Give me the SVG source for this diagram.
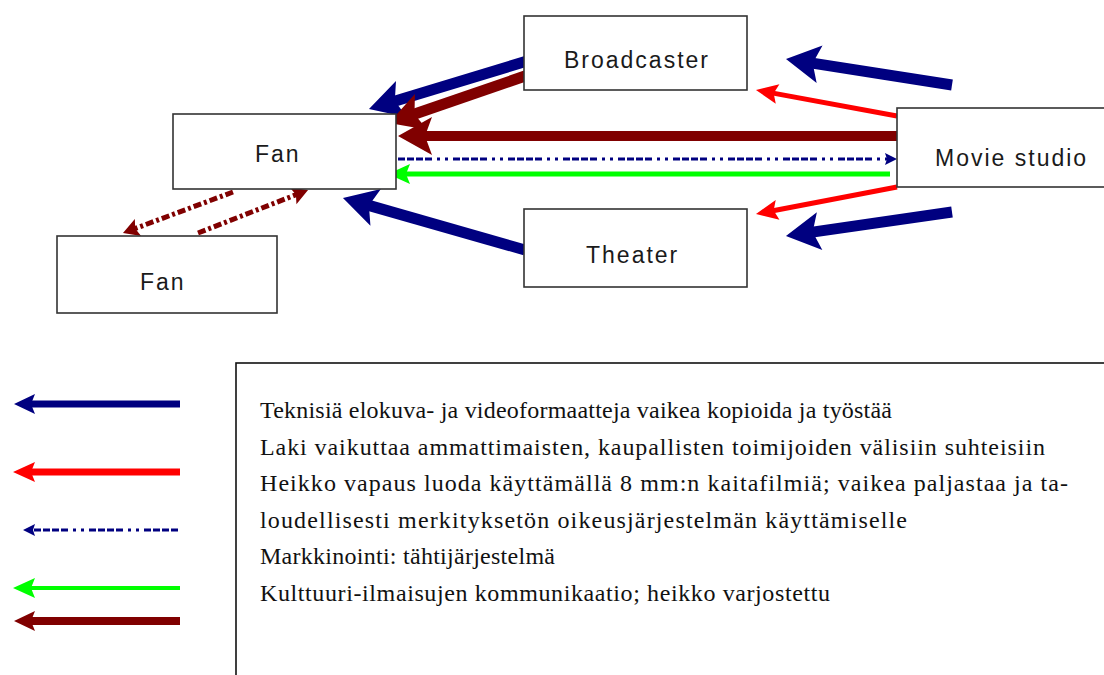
<svg xmlns="http://www.w3.org/2000/svg" width="1104" height="675" viewBox="0 0 1104 675">
<style>
.box{fill:#fff;stroke:#333;stroke-width:1.6}
.lbl{font-family:"Liberation Sans",Arial,sans-serif;font-size:23px;letter-spacing:2px;fill:#1a1a1a}
.leg{font-family:"Liberation Serif","Times New Roman",serif;font-size:24px;fill:#111}
.navy{stroke:#000080;fill:none}
.dred{stroke:#800000;fill:none}
.red{stroke:#ff0000;fill:none}
.green{stroke:#00ff00;fill:none}
</style>
<defs>
<marker id="hLnavy" markerUnits="userSpaceOnUse" refX="9" refY="0" markerWidth="44" markerHeight="44" viewBox="0 -22 44 44" orient="auto" overflow="visible"><path d="M0,-19 L34,0 L0,19 L7,0 Z" fill="#000080"/></marker>
<marker id="hLdred" markerUnits="userSpaceOnUse" refX="9" refY="0" markerWidth="44" markerHeight="44" viewBox="0 -22 44 44" orient="auto" overflow="visible"><path d="M0,-19 L34,0 L0,19 L7,0 Z" fill="#800000"/></marker>
<marker id="hMred" markerUnits="userSpaceOnUse" refX="6" refY="0" markerWidth="30" markerHeight="30" viewBox="0 -15 30 30" orient="auto" overflow="visible"><path d="M0,-10 L22,0 L0,10 L4,0 Z" fill="#ff0000"/></marker>
<marker id="hMgreen" markerUnits="userSpaceOnUse" refX="6" refY="0" markerWidth="30" markerHeight="30" viewBox="0 -15 30 30" orient="auto" overflow="visible"><path d="M0,-10 L22,0 L0,10 L4,0 Z" fill="#00ff00"/></marker>
<marker id="hMnavy" markerUnits="userSpaceOnUse" refX="6" refY="0" markerWidth="30" markerHeight="30" viewBox="0 -15 30 30" orient="auto" overflow="visible"><path d="M0,-10 L21,0 L0,10 L4,0 Z" fill="#000080"/></marker>
<marker id="hMdred" markerUnits="userSpaceOnUse" refX="6" refY="0" markerWidth="30" markerHeight="30" viewBox="0 -15 30 30" orient="auto" overflow="visible"><path d="M0,-10 L21,0 L0,10 L4,0 Z" fill="#800000"/></marker>
<marker id="hSnavy" markerUnits="userSpaceOnUse" refX="4" refY="0" markerWidth="16" markerHeight="16" viewBox="0 -8 16 16" orient="auto" overflow="visible"><path d="M0,-6 L12,0 L0,6 L2,0 Z" fill="#000080"/></marker>
<marker id="hSdred" markerUnits="userSpaceOnUse" refX="5" refY="0" markerWidth="22" markerHeight="22" viewBox="0 -11 22 22" orient="auto" overflow="visible"><path d="M0,-9 L16,0 L0,9 L3,0 Z" fill="#800000"/></marker>
</defs>

<g id="connectors">
<line class="navy" stroke-width="11" x1="527" y1="61" x2="392.9" y2="101.7" marker-end="url(#hLnavy)"/>
<line class="dred" stroke-width="11" x1="528" y1="75" x2="412.6" y2="114.8" marker-end="url(#hLdred)"/>
<line class="dred" stroke-width="10" x1="897" y1="136" x2="423" y2="136" marker-end="url(#hLdred)"/>
<line class="navy" stroke-width="3" stroke-dasharray="7,2,7,2,7,2,7,5,3,5,3,5" x1="398" y1="159" x2="889" y2="159" marker-end="url(#hSnavy)"/>
<line class="green" stroke-width="5" x1="890" y1="174" x2="404" y2="174" marker-end="url(#hMgreen)"/>
<line class="navy" stroke-width="11" x1="952" y1="85" x2="810.7" y2="62.9" marker-end="url(#hLnavy)"/>
<line class="red" stroke-width="5" x1="897" y1="116" x2="771.7" y2="92.9" marker-end="url(#hMred)"/>
<line class="red" stroke-width="5" x1="897" y1="187" x2="771.7" y2="211" marker-end="url(#hMred)"/>
<line class="navy" stroke-width="11" x1="952" y1="212" x2="810.7" y2="232.4" marker-end="url(#hLnavy)"/>
<line class="navy" stroke-width="11" x1="525" y1="250" x2="367" y2="204.9" marker-end="url(#hLnavy)"/>
<line class="dred" stroke-width="5" stroke-dasharray="8,3,3,3" x1="233" y1="192" x2="133.3" y2="229.2" marker-end="url(#hSdred)"/>
<line class="dred" stroke-width="5" stroke-dasharray="8,3,3,3" x1="198" y1="233" x2="297.8" y2="194" marker-end="url(#hSdred)"/>
</g>

<g id="broadcaster"><rect class="box" x="524" y="16" width="223" height="74"/><text class="lbl" x="564" y="68">Broadcaster</text></g>
<g id="fan1"><rect class="box" x="173" y="114" width="223" height="75"/><text class="lbl" x="255" y="162">Fan</text></g>
<g id="movie-studio"><rect class="box" x="897" y="108" width="230" height="79"/><text class="lbl" x="935" y="166">Movie studio</text></g>
<g id="theater"><rect class="box" x="524" y="209" width="223" height="78"/><text class="lbl" x="586" y="263">Theater</text></g>
<g id="fan2"><rect class="box" x="57" y="236" width="220" height="77"/><text class="lbl" x="140" y="290">Fan</text></g>

<g id="legend">
<line class="navy" stroke-width="7" x1="180" y1="404" x2="29" y2="404" marker-end="url(#hMnavy)"/>
<line class="red" stroke-width="7" x1="180" y1="472" x2="29" y2="472" marker-end="url(#hMred)"/>
<line class="navy" stroke-width="3" stroke-dasharray="7,2,7,2,7,2,7,5,3,5,3,5" x1="178" y1="530" x2="31" y2="530" marker-end="url(#hSnavy)"/>
<line class="green" stroke-width="4" x1="180" y1="588" x2="29" y2="588" marker-end="url(#hMgreen)"/>
<line class="dred" stroke-width="8" x1="180" y1="621" x2="29" y2="621" marker-end="url(#hMdred)"/>
<rect x="236" y="363" width="900" height="400" fill="none" stroke="#111" stroke-width="1.6"/>
<text class="leg" x="260" y="418" textLength="632" lengthAdjust="spacing">Teknisiä elokuva- ja videoformaatteja vaikea kopioida ja työstää</text>
<text class="leg" x="260" y="455" textLength="785" lengthAdjust="spacing">Laki vaikuttaa ammattimaisten, kaupallisten toimijoiden välisiin suhteisiin</text>
<text class="leg" x="260" y="491" textLength="808" lengthAdjust="spacing">Heikko vapaus luoda käyttämällä 8 mm:n kaitafilmiä; vaikea paljastaa ja ta-</text>
<text class="leg" x="260" y="528" textLength="647" lengthAdjust="spacing">loudellisesti  merkityksetön oikeusjärjestelmän käyttämiselle</text>
<text class="leg" x="260" y="564" textLength="295" lengthAdjust="spacing">Markkinointi: tähtijärjestelmä</text>
<text class="leg" x="260" y="601" textLength="570" lengthAdjust="spacing">Kulttuuri-ilmaisujen kommunikaatio; heikko varjostettu</text>
</g>
</svg>
